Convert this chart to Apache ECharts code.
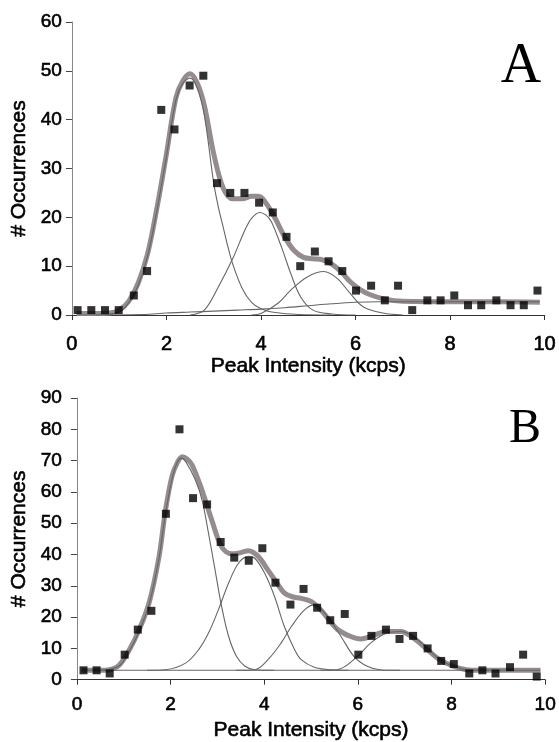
<!DOCTYPE html>
<html>
<head>
<meta charset="utf-8">
<script src="https://cdn.jsdelivr.net/npm/echarts@6.0.0/dist/echarts.min.js"></script>
<style>
  html, body { margin: 0; padding: 0; background: #fff; }
  #chart { width: 559px; height: 742px; }
</style>
</head>
<body>
<div id="chart"></div>
<script>
// panel A: histogram points
const xA = [0.12, 0.41, 0.70, 0.99, 1.31, 1.59, 1.89, 2.17, 2.49, 2.78, 3.07, 3.35, 3.65, 3.96, 4.25, 4.54, 4.83,
  5.14, 5.43, 5.72, 6.01, 6.33, 6.62, 6.90, 7.20, 7.52, 7.80, 8.09, 8.38, 8.66, 8.98, 9.28, 9.56, 9.85];
const countsA = [1, 1, 1, 1, 4, 9, 42, 38, 47, 49, 27, 25, 25, 23, 21, 16, 10,
  13, 11, 9, 5, 6, 3, 6, 1, 3, 3, 4, 2, 2, 3, 2, 2, 5];

// panel A: fitted curve and its components as [x, y]
const fitA = [[0.1, 0.3], [0.5, 0.3], [0.8, 0.4], [1.0, 1.0], [1.2, 2.8], [1.4, 6.5], [1.6, 12.5], [1.8, 22],
  [2.0, 33], [2.2, 44.5], [2.35, 48], [2.5, 49.4], [2.65, 47.5], [2.8, 43], [3.0, 33], [3.2, 26], [3.4, 23.8],
  [3.6, 23.8], [3.8, 24.3], [3.95, 24.3], [4.1, 23], [4.3, 19.8], [4.5, 16], [4.7, 13.2], [4.9, 11.8],
  [5.1, 11.5], [5.3, 11.3], [5.5, 10.4], [5.7, 8.8], [5.9, 6.7], [6.1, 5.2], [6.3, 4.2], [6.6, 3.3],
  [7.0, 2.8], [8.0, 2.7], [9.0, 2.7], [9.9, 2.6]];
const peak1A = [[0.5, 0], [1.0, 0.6], [1.2, 2.5], [1.4, 6.0], [1.6, 12], [1.8, 21.5], [2.0, 32.5], [2.2, 44],
  [2.35, 47.5], [2.5, 48.5], [2.65, 46.5], [2.8, 41], [3.0, 27], [3.1, 22], [3.2, 18], [3.3, 14], [3.4, 10.5],
  [3.6, 5.5], [3.8, 2.6], [4.0, 1.3], [4.3, 0.5], [4.8, 0.1], [5.5, 0]];
const peak2A = [[2.5, 0], [2.8, 1.0], [3.1, 5.8], [3.4, 11.5], [3.66, 17.4], [3.8, 19.8], [3.97, 21],
  [4.1, 20.5], [4.22, 19.1], [4.43, 14], [4.63, 8.5], [4.84, 3.7], [5.1, 1.0], [5.5, 0.2], [6.0, 0]];
const peak3A = [[3.8, 0], [4.0, 0.3], [4.36, 2.4], [4.63, 5.1], [4.98, 7.8], [5.33, 8.9], [5.61, 7.5],
  [5.89, 4.4], [6.16, 1.7], [6.58, 0.4], [7.0, 0]];
const backA = [[0.1, 0], [1.5, 0.1], [2.0, 0.4], [2.5, 0.6], [3.0, 0.8], [3.5, 1.0], [4.0, 1.2], [4.5, 1.5],
  [5.0, 1.9], [5.5, 2.3], [6.0, 2.6], [6.5, 2.7], [9.9, 2.7]];

// panel B: histogram points
const xB = [0.14, 0.42, 0.70, 1.02, 1.30, 1.59, 1.90, 2.19, 2.48, 2.78, 3.07, 3.36, 3.67, 3.96, 4.24, 4.56, 4.84,
  5.13, 5.41, 5.72, 6.01, 6.29, 6.60, 6.89, 7.18, 7.49, 7.78, 8.05, 8.38, 8.66, 8.94, 9.25, 9.53, 9.82];
const countsB = [3, 3, 2, 8, 16, 22, 53, 80, 58, 56, 44, 39, 38, 42, 31, 24, 29,
  23, 19, 21, 8, 14, 16, 13, 14, 10, 6, 5, 2, 3, 2, 4, 8, 1];

// panel B: fitted curve and components
const fitB = [[0.1, 3], [0.5, 3], [0.7, 3.2], [0.9, 4.6], [1.12, 9.6], [1.33, 16], [1.54, 24.5], [1.75, 39],
  [1.89, 54], [2.03, 65], [2.15, 69.5], [2.25, 71.2], [2.35, 70.5], [2.46, 68.6], [2.67, 60.6], [2.88, 51],
  [3.09, 42.5], [3.31, 40.2], [3.5, 40.6], [3.66, 41.2], [3.87, 39.4], [4.08, 35], [4.29, 30.5], [4.43, 27.7],
  [4.6, 26.5], [4.79, 26], [5.0, 25], [5.21, 22.3], [5.4, 18.8], [5.57, 16], [5.85, 13.8], [6.06, 13],
  [6.34, 14.2], [6.62, 15.4], [6.91, 15.4], [7.19, 13.3], [7.47, 9.8], [7.75, 6.4], [8.04, 4.3], [8.32, 3.2],
  [8.6, 3], [9.9, 3]];
const peak1B = [[0.5, 3], [0.9, 4.4], [1.12, 9.2], [1.33, 15.5], [1.54, 24], [1.75, 38.5], [1.89, 53], [2.03, 64],
  [2.13, 69], [2.23, 70.8], [2.33, 69.5], [2.53, 63.8], [2.67, 57.5], [2.81, 46.8], [2.95, 35.1], [3.09, 23.4],
  [3.24, 13.8], [3.41, 7.4], [3.59, 4.3], [3.8, 3.2], [4.2, 3]];
const peak2B = [[1.5, 3], [1.89, 3.2], [2.32, 5.3], [2.6, 9.6], [2.81, 14.9], [3.02, 22.3], [3.24, 30.9],
  [3.45, 37.2], [3.66, 39.4], [3.8, 38.8], [4.01, 34], [4.22, 26.6], [4.43, 17], [4.65, 9.6], [4.79, 6.4],
  [5.07, 4.0], [5.42, 3.2], [5.8, 3]];
const peak3B = [[3.4, 3], [3.8, 3.2], [4.08, 6.4], [4.36, 11.7], [4.58, 17], [4.86, 22.3], [5.07, 23.9],
  [5.35, 20.2], [5.64, 13.8], [5.92, 7.4], [6.2, 4.3], [6.5, 3.1], [6.9, 3]];
const peak4B = [[5.2, 3], [5.56, 3.2], [5.99, 7.4], [6.27, 11.7], [6.62, 14.9], [6.91, 15.4], [7.19, 13.8],
  [7.47, 10.1], [7.75, 6.4], [8.04, 4.3], [8.4, 3.1], [8.8, 3]];
const backB = [[0.1, 3], [9.9, 3]];

const xTicks = [0, 2, 4, 6, 8, 10];
const yMaxA = 60;
const yMaxB = 90;

const sans = '"Liberation Sans", Arial, sans-serif';
// the scanned text is heavier than plain Arial, a thin outline thickens it a bit
const heavy = { textBorderColor: '#000', textBorderWidth: 0.6 };

function pairs(xs, ys) {
  return xs.map(function (x, i) { return [x, ys[i]]; });
}

// thin component line
function thin(data, idx) {
  return {
    type: 'line', data: data, xAxisIndex: idx, yAxisIndex: idx, smooth: 0.35,
    symbol: 'none', silent: true, z: 3,
    lineStyle: { color: '#666', width: 1.1 }
  };
}

function fitLine(data, idx) {
  return {
    type: 'line', data: data, xAxisIndex: idx, yAxisIndex: idx, smooth: 0.35,
    symbol: 'none', silent: true, z: 2,
    lineStyle: { color: '#948c90', width: 5 }
  };
}

function dots(data, idx) {
  return {
    type: 'scatter', data: data, xAxisIndex: idx, yAxisIndex: idx,
    symbol: 'rect', symbolSize: 8, z: 5,
    itemStyle: { color: '#000' }
  };
}

function xAxisFor(idx, labelSize, margin, gap) {
  return {
    gridIndex: idx, type: 'value', min: 0, max: 10, interval: 2,
    name: 'Peak Intensity (kcps)', nameLocation: 'middle', nameGap: gap,
    nameTextStyle: Object.assign({ fontFamily: sans, fontSize: 21, color: '#000' }, heavy),
    axisLine: { onZero: false, lineStyle: { color: '#333', width: 1 } },
    axisTick: { show: true, length: 5, lineStyle: { color: '#333' } },
    axisLabel: Object.assign({ fontFamily: sans, fontSize: labelSize, color: '#000', margin: margin,
      formatter: function (v) { return xTicks.indexOf(v) >= 0 ? String(v) : ''; } }, heavy),
    splitLine: { show: false }
  };
}

function yAxisFor(idx, max, margin, gap) {
  return {
    gridIndex: idx, type: 'value', min: 0, max: max, interval: 10,
    name: '# Occurrences', nameLocation: 'middle', nameGap: gap, nameRotate: 90,
    nameTextStyle: Object.assign({ fontFamily: sans, fontSize: 21, color: '#000' }, heavy),
    axisLine: { show: true, lineStyle: { color: '#888', width: 1 } },
    axisTick: { show: true, length: 6, lineStyle: { color: '#444' } },
    axisLabel: Object.assign({ fontFamily: sans, fontSize: 19, color: '#000', margin: margin }, heavy),
    splitLine: { show: false }
  };
}

const chart = echarts.init(document.getElementById('chart'), null, { renderer: 'canvas' });

const option = {
  animation: false,
  backgroundColor: '#fff',
  grid: [
    { left: 68, right: 12, top: 22, height: 293 },
    { left: 73, right: 13, top: 398, height: 282 }
  ],
  xAxis: [xAxisFor(0, 20, 19, 38), xAxisFor(1, 19, 16, 40)],
  yAxis: [yAxisFor(0, yMaxA, 10, 32), yAxisFor(1, yMaxB, 15, 37)],
  graphic: [
    { type: 'text', x: 521, y: 67, style: { text: 'A', font: '56px "Liberation Serif", "Times New Roman", serif',
      fill: '#000', textAlign: 'center', textVerticalAlign: 'middle' } },
    { type: 'text', x: 525, y: 429, style: { text: 'B', font: '48px "Liberation Serif", "Times New Roman", serif',
      fill: '#000', textAlign: 'center', textVerticalAlign: 'middle' } }
  ],
  series: [
    fitLine(fitA, 0),
    thin(backA, 0), thin(peak1A, 0), thin(peak2A, 0), thin(peak3A, 0),
    dots(pairs(xA, countsA), 0),
    fitLine(fitB, 1),
    thin(backB, 1), thin(peak1B, 1), thin(peak2B, 1), thin(peak3B, 1), thin(peak4B, 1),
    dots(pairs(xB, countsB), 1)
  ]
};

chart.setOption(option);
</script>
</body>
</html>
